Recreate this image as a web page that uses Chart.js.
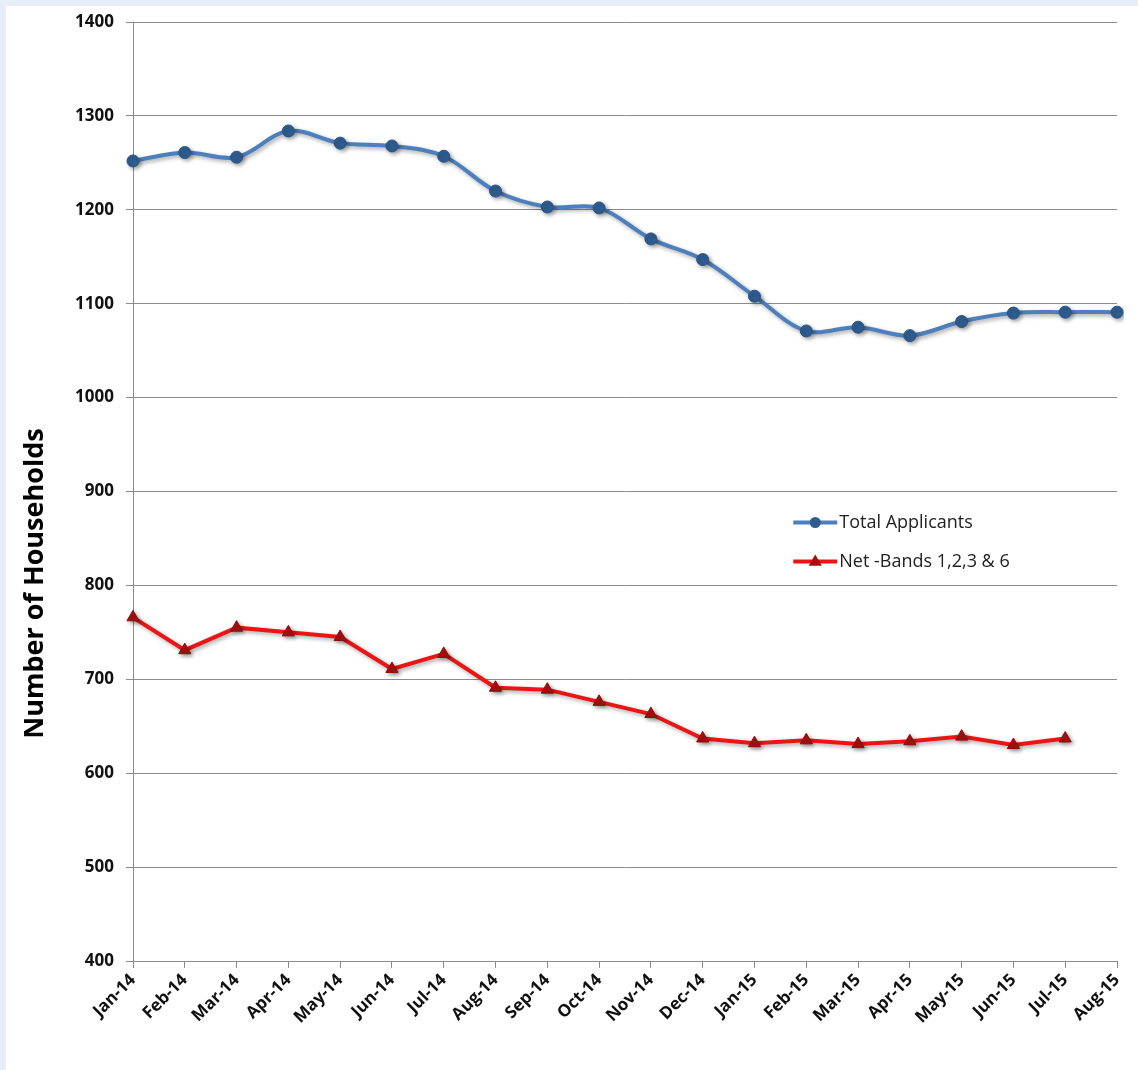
<!DOCTYPE html>
<html>
<head>
<meta charset="utf-8">
<title>Number of Households</title>
<script src="https://cdn.jsdelivr.net/npm/chart.js@4/dist/chart.umd.min.js"></script>
<style>
    html, body { margin: 0; padding: 0; background: #e8edf7; }
    #wrap { position: absolute; left: 6px; top: 6px; width: 1132px; height: 1064px; background: #fff; }
</style>
</head>
<body>
<div id="wrap"><canvas id="households"></canvas></div>
<script>
const months = ['Jan-14', 'Feb-14', 'Mar-14', 'Apr-14', 'May-14', 'Jun-14', 'Jul-14', 'Aug-14', 'Sep-14', 'Oct-14',
    'Nov-14', 'Dec-14', 'Jan-15', 'Feb-15', 'Mar-15', 'Apr-15', 'May-15', 'Jun-15', 'Jul-15', 'Aug-15'];

const totalApplicants = [1252, 1261, 1256, 1284, 1271, 1268, 1257, 1220, 1203, 1202,
    1169, 1147, 1108, 1071, 1075, 1066, 1081, 1090, 1091, 1091];

const netBands = [766, 731, 755, 750, 745, 711, 727, 691, 689, 676,
    663, 637, 632, 635, 631, 634, 639, 630, 637, null];

const yMin = 400;
const yMax = 1400;
const yStep = 100;

const FONT = '"Open Sans", Lato, sans-serif';

// soft drop shadow under both series
const shadowPlugin = {
    id: 'shadow',
    beforeDatasetDraw(chart) {
        const ctx = chart.ctx;
        ctx.save();
        ctx.shadowColor = 'rgba(0,0,0,0.35)';
        ctx.shadowBlur = 4;
        ctx.shadowOffsetX = 2;
        ctx.shadowOffsetY = 2;
    },
    afterDatasetDraw(chart) {
        chart.ctx.restore();
    }
};

// y axis caption, sitting a little below the middle of the plot
const yCaption = {
    id: 'yCaption',
    afterDraw(chart) {
        const { ctx, chartArea } = chart;
        const cy = chartArea.top + chartArea.height * 0.598;
        ctx.save();
        ctx.translate(29, cy);
        ctx.rotate(-Math.PI / 2);
        ctx.fillStyle = '#000';
        ctx.font = 'bold 27px ' + FONT;
        ctx.textAlign = 'center';
        ctx.textBaseline = 'middle';
        ctx.fillText('Number of Households', 0, 0);
        ctx.restore();
    }
};

// legend inside the plot area, drawn with each dataset's own style
const insideLegend = {
    id: 'insideLegend',
    afterDraw(chart) {
        const { ctx, chartArea } = chart;
        const x0 = chartArea.left + chartArea.width * 0.671;
        const y0 = chartArea.top + chartArea.height * 0.533;
        const gap = 39;
        ctx.save();
        chart.data.datasets.forEach((ds, i) => {
            const y = y0 + i * gap;
            ctx.strokeStyle = ds.borderColor;
            ctx.lineWidth = ds.borderWidth;
            ctx.beginPath();
            ctx.moveTo(x0, y);
            ctx.lineTo(x0 + 44, y);
            ctx.stroke();
            ctx.fillStyle = ds.pointBackgroundColor;
            ctx.beginPath();
            if (ds.pointStyle === 'triangle') {
                const r = ds.pointRadius;
                ctx.moveTo(x0 + 22, y - r);
                ctx.lineTo(x0 + 22 + r * 0.95, y + r * 0.6);
                ctx.lineTo(x0 + 22 - r * 0.95, y + r * 0.6);
                ctx.closePath();
            } else {
                ctx.arc(x0 + 22, y, ds.pointRadius - 0.5, 0, Math.PI * 2);
            }
            ctx.fill();
            ctx.fillStyle = '#222';
            ctx.font = '18px ' + FONT;
            ctx.textBaseline = 'middle';
            ctx.fillText(ds.label, x0 + 46, y);
        });
        ctx.restore();
    }
};

new Chart(document.getElementById('households'), {
    type: 'line',
    data: {
        labels: months,
        datasets: [
            {
                label: 'Total Applicants',
                data: totalApplicants,
                borderColor: '#4c7fbc',
                borderWidth: 4,
                tension: 0.35,
                pointStyle: 'circle',
                pointRadius: 6,
                pointBackgroundColor: '#2f5d91',
                pointBorderColor: '#2a5384',
                pointBorderWidth: 1
            },
            {
                label: 'Net -Bands 1,2,3 & 6',
                data: netBands,
                borderColor: '#ec1414',
                borderWidth: 4,
                tension: 0,
                pointStyle: 'triangle',
                pointRadius: 7,
                pointBackgroundColor: '#a8100f',
                pointBorderColor: '#8e0c0c',
                pointBorderWidth: 1
            }
        ]
    },
    options: {
        responsive: true,
        maintainAspectRatio: false,
        animation: false,
        layout: { padding: { top: 16, right: 21, left: 0, bottom: 0 } },
        plugins: {
            legend: { display: false },
            tooltip: { enabled: false }
        },
        scales: {
            x: {
                offset: false,
                afterFit: (scale) => { scale.height = 109; },
                grid: {
                    drawOnChartArea: false,
                    drawTicks: true,
                    tickLength: 7,
                    color: '#8c8c8c'
                },
                border: { color: '#8c8c8c', width: 1 },
                ticks: {
                    autoSkip: false,
                    maxRotation: 45,
                    minRotation: 45,
                    padding: 2,
                    color: '#111',
                    font: { family: FONT, size: 17, weight: 'bold' }
                }
            },
            y: {
                min: yMin,
                max: yMax,
                afterFit: (scale) => {
                    scale.width = 127;
                    scale.paddingTop = 0;
                    scale.paddingBottom = 0;
                },
                grid: {
                    color: '#8c8c8c',
                    tickLength: 7,
                    lineWidth: 1
                },
                border: { color: '#8c8c8c', width: 1 },
                ticks: {
                    stepSize: yStep,
                    padding: 12,
                    color: '#111',
                    callback: (v) => String(v),
                    font: { family: FONT, size: 17, weight: 'bold' }
                }
            }
        }
    },
    plugins: [shadowPlugin, yCaption, insideLegend]
});
</script>
</body>
</html>
